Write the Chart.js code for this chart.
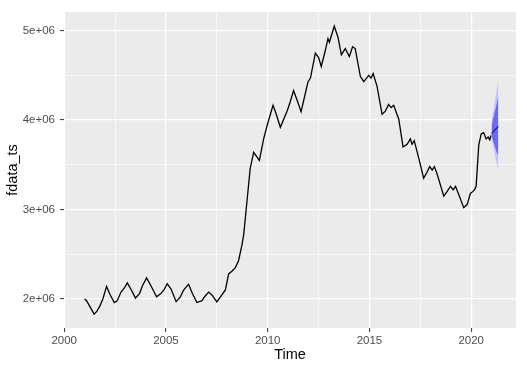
<!DOCTYPE html>
<html>
<head>
<meta charset="utf-8">
<script src="https://cdn.jsdelivr.net/npm/chart.js@4/dist/chart.umd.min.js"></script>
<style>
html,body{margin:0;padding:0;background:#fff;}
#wrap{width:527px;height:371px;position:relative;}
</style>
</head>
<body>
<div id="wrap"><canvas id="c" width="527" height="371"></canvas></div>
<script>
// Observed series (time in decimal years, value)
const obsTime = [
2001.00,2001.10,2001.25,2001.47,2001.60,2001.75,2001.90,2002.08,2002.25,2002.46,
2002.60,2002.80,2002.95,2003.10,2003.30,2003.50,2003.70,2003.85,2004.05,2004.30,
2004.54,2004.75,2004.90,2005.06,2005.25,2005.50,2005.70,2005.87,2006.11,2006.30,
2006.52,2006.77,2006.90,2007.10,2007.26,2007.50,2007.67,2007.92,2008.08,2008.24,
2008.41,2008.57,2008.74,2008.82,2008.98,2009.14,2009.31,2009.59,2009.80,2009.97,
2010.26,2010.40,2010.62,2010.95,2011.10,2011.27,2011.45,2011.64,2011.85,2011.98,
2012.10,2012.34,2012.50,2012.63,2012.80,2012.96,2013.03,2013.27,2013.45,2013.62,
2013.81,2014.01,2014.17,2014.30,2014.55,2014.72,2014.96,2015.08,2015.18,2015.37,
2015.62,2015.78,2015.94,2016.06,2016.19,2016.44,2016.65,2016.85,2017.01,2017.09,
2017.20,2017.47,2017.66,2017.83,2017.96,2018.08,2018.19,2018.32,2018.65,2018.81,
2018.98,2019.11,2019.23,2019.39,2019.63,2019.80,2019.96,2020.07,2020.16,2020.24,
2020.37,2020.49,2020.61,2020.73,2020.83,2020.91,2020.97
];
const obsValue = [
2.00e6,1.98e6,1.92e6,1.83e6,1.86e6,1.92e6,2.00e6,2.14e6,2.05e6,1.96e6,
1.98e6,2.08e6,2.12e6,2.18e6,2.10e6,2.01e6,2.06e6,2.15e6,2.235e6,2.13e6,
2.025e6,2.06e6,2.10e6,2.17e6,2.11e6,1.97e6,2.02e6,2.10e6,2.165e6,2.06e6,
1.96e6,1.98e6,2.025e6,2.077e6,2.045e6,1.967e6,2.02e6,2.10e6,2.28e6,2.31e6,
2.35e6,2.43e6,2.61e6,2.72e6,3.09e6,3.46e6,3.64e6,3.55e6,3.79e6,3.94e6,
4.165e6,4.08e6,3.92e6,4.10e6,4.20e6,4.33e6,4.22e6,4.095e6,4.30e6,4.43e6,
4.47e6,4.75e6,4.70e6,4.60e6,4.75e6,4.91e6,4.87e6,5.05e6,4.93e6,4.73e6,
4.80e6,4.71e6,4.82e6,4.80e6,4.49e6,4.43e6,4.50e6,4.47e6,4.52e6,4.38e6,
4.065e6,4.10e6,4.175e6,4.14e6,4.165e6,4.01e6,3.70e6,3.73e6,3.79e6,3.73e6,
3.77e6,3.53e6,3.35e6,3.42e6,3.48e6,3.44e6,3.48e6,3.40e6,3.15e6,3.20e6,
3.26e6,3.22e6,3.26e6,3.165e6,3.02e6,3.055e6,3.18e6,3.20e6,3.22e6,3.26e6,
3.72e6,3.845e6,3.86e6,3.79e6,3.81e6,3.78e6,3.83e6
];
// Forecast
const fcTime  = [2021.00, 2021.0833, 2021.1667, 2021.25, 2021.3333];
const fcMean  = [3.85e6, 3.87e6, 3.89e6, 3.91e6, 3.93e6];
const fcLo80  = [3.82e6, 3.76e6, 3.70e6, 3.64e6, 3.60e6];
const fcHi80  = [3.93e6, 4.02e6, 4.10e6, 4.18e6, 4.27e6];
const fcLo95  = [3.80e6, 3.70e6, 3.60e6, 3.52e6, 3.46e6];
const fcHi95  = [3.99e6, 4.10e6, 4.22e6, 4.33e6, 4.45e6];
// Axis ticks
const xMajor = [2000, 2005, 2010, 2015, 2020];
const xMinor = [2002.5, 2007.5, 2012.5, 2017.5];
const yMajor = [2e6, 3e6, 4e6, 5e6];
const yMinor = [2.5e6, 3.5e6, 4.5e6];
const yLabels = ['2e+06', '3e+06', '4e+06', '5e+06'];

const pts = (t, v) => t.map((x, i) => ({x: x, y: v[i]}));

const panelBg = {
  id: 'panelBg',
  beforeDraw(chart) {
    const a = chart.chartArea, c = chart.ctx;
    c.save();
    c.fillStyle = '#EBEBEB';
    c.fillRect(a.left, a.top, a.right - a.left, a.bottom - a.top);
    c.restore();
  }
};

const isMajor = (v, list) => list.some(m => Math.abs(m - v) < 1e-6 * Math.max(1, Math.abs(m)));

new Chart(document.getElementById('c'), {
  type: 'line',
  data: {
    datasets: [
      {label: 'obs', data: pts(obsTime, obsValue), borderColor: '#000000', borderWidth: 1.3,
       pointRadius: 0, fill: false, tension: 0, order: 0},
      {label: 'mean', data: pts(fcTime, fcMean), borderColor: '#1010A0', borderWidth: 1.1,
       pointRadius: 0, fill: false, order: 1},
      {label: 'hi80', data: pts(fcTime, fcHi80), borderWidth: 0, pointRadius: 0,
       backgroundColor: '#6A6AF2', fill: {target: 3}, order: 2},
      {label: 'lo80', data: pts(fcTime, fcLo80), borderWidth: 0, pointRadius: 0, fill: false, order: 2},
      {label: 'hi95', data: pts(fcTime, fcHi95), borderWidth: 0, pointRadius: 0,
       backgroundColor: '#C4C4FA', fill: {target: 5}, order: 3},
      {label: 'lo95', data: pts(fcTime, fcLo95), borderWidth: 0, pointRadius: 0, fill: false, order: 3}
    ]
  },
  options: {
    responsive: false,
    animation: false,
    events: [],
    layout: {padding: {left: 0, right: 11, top: 8, bottom: 0}},
    plugins: {legend: {display: false}, tooltip: {enabled: false}},
    scales: {
      x: {
        type: 'linear', min: 1999.99, max: 2022.2,
        afterBuildTicks(s) { s.ticks = xMajor.concat(xMinor).sort((a,b)=>a-b).map(v => ({value: v})); },
        afterFit(s) { s.height = 43; },
        ticks: {
          autoSkip: false, maxRotation: 0, padding: 2,
          color: '#4D4D4D', font: {family: 'Liberation Sans', size: 11.5},
          callback: v => isMajor(v, xMajor) ? String(v) : ''
        },
        grid: {
          color: c => '#FFFFFF',
          lineWidth: c => isMajor(c.tick.value, xMajor) ? 1.2 : 0.6,
          tickColor: c => isMajor(c.tick.value, xMajor) ? '#333333' : 'rgba(0,0,0,0)',
          tickLength: 4, tickWidth: 1
        },
        border: {display: false},
        title: {display: true, text: 'Time', color: '#000000',
                font: {family: 'Liberation Sans', size: 14.5}, padding: {top: 0, bottom: 7}}
      },
      y: {
        type: 'linear', min: 1.675e6, max: 5.21e6,
        afterBuildTicks(s) { s.ticks = yMajor.concat(yMinor).sort((a,b)=>a-b).map(v => ({value: v})); },
        afterFit(s) { s.width = 64; },
        ticks: {
          padding: 5, color: '#4D4D4D', font: {family: 'Liberation Sans', size: 11.5},
          callback: v => { const i = yMajor.findIndex(m => Math.abs(m - v) < 1); return i >= 0 ? yLabels[i] : ''; }
        },
        grid: {
          color: c => '#FFFFFF',
          lineWidth: c => isMajor(c.tick.value, yMajor) ? 1.2 : 0.6,
          tickColor: c => isMajor(c.tick.value, yMajor) ? '#333333' : 'rgba(0,0,0,0)',
          tickLength: 4, tickWidth: 1
        },
        border: {display: false},
        title: {display: true, text: 'fdata_ts', color: '#000000',
                font: {family: 'Liberation Sans', size: 14.5}, padding: {top: 4, bottom: 0}}
      }
    }
  },
  plugins: [panelBg]
});
</script>
</body>
</html>
